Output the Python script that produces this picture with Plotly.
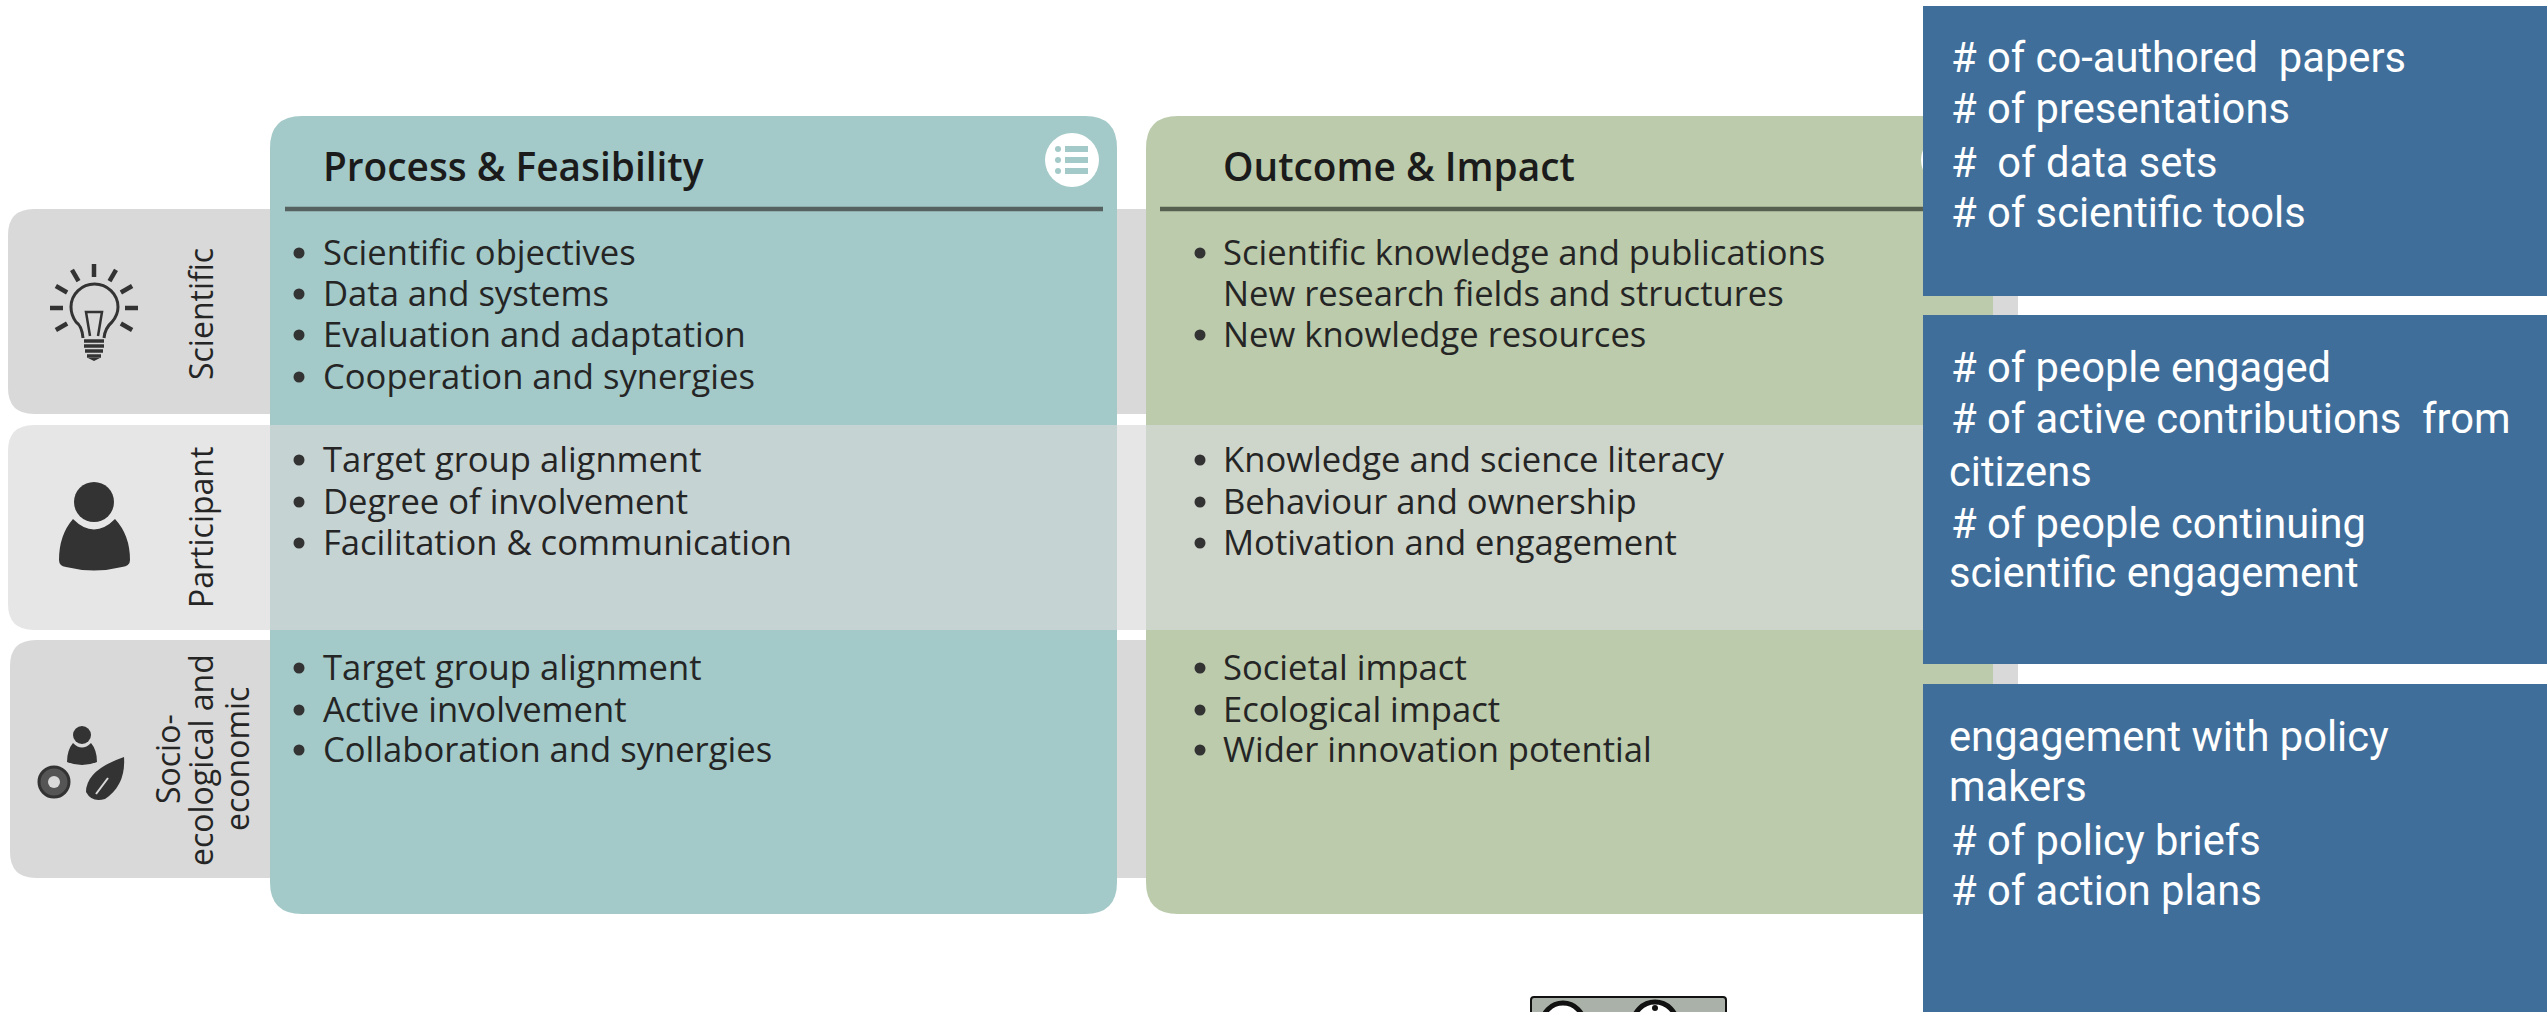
import math
import plotly.graph_objects as go

# ---- content ----
column_titles = ["Process & Feasibility", "Outcome & Impact"]
row_labels = [["Scientific"], ["Participant"], ["Socio-", "ecological and", "economic"]]
process_items = [
    ["Scientific objectives", "Data and systems", "Evaluation and adaptation", "Cooperation and synergies"],
    ["Target group alignment", "Degree of involvement", "Facilitation & communication"],
    ["Target group alignment", "Active involvement", "Collaboration and synergies"],
]
outcome_items = [
    ["Scientific knowledge and publications", "New research fields and structures", "New knowledge resources"],
    ["Knowledge and science literacy", "Behaviour and ownership", "Motivation and engagement"],
    ["Societal impact", "Ecological impact", "Wider innovation potential"],
]
outcome_no_bullet = {(0, 1)}
metric_lines = [
    ["# of co-authored  papers", "# of presentations", "#  of data sets", "# of scientific tools"],
    ["# of people engaged", "# of active contributions  from", "citizens", "# of people continuing", "scientific engagement"],
    ["engagement with policy", "makers", "# of policy briefs", "# of action plans"],
]

# ---- layout (pixel space of the canvas) ----
W, H = 2547, 1012
TEAL, GREEN = "#a3c9c8", "#bbcbab"
TEAL_L, GREEN_L = "#c6d3d3", "#ced5ca"
GREY_D, GREY_L = "#d9d9d9", "#e6e6e6"
BLUE = "#406e9a"
INK = "#252525"
ICON = "#333333"

item_y = [[253, 294, 335, 377], [460, 502, 543], [668, 710, 750]]
metric_y = [[57, 108, 162, 212], [367, 418, 471, 523, 572], [736, 786, 840, 890]]
metric_x = [[1949] * 4, [1949, 1949, 1947, 1949, 1947], [1947, 1947, 1949, 1949]]

shapes, ann = [], []


def rrect(x0, y0, x1, y1, rtl=0, rtr=0, rbr=0, rbl=0):
    return (f"M{x0+rtl},{y0} L{x1-rtr},{y0} Q{x1},{y0} {x1},{y0+rtr} L{x1},{y1-rbr} Q{x1},{y1} {x1-rbr},{y1} "
            f"L{x0+rbl},{y1} Q{x0},{y1} {x0},{y1-rbl} L{x0},{y0+rtl} Q{x0},{y0} {x0+rtl},{y0} Z")


def path(d, fill=None, line=None, w=0):
    shapes.append(dict(type="path", path=d, fillcolor=fill or "rgba(0,0,0,0)", layer="below",
                       line=dict(color=line or "rgba(0,0,0,0)", width=w)))


def circle(cx, cy, r, fill=None, line=None, w=0):
    shapes.append(dict(type="circle", x0=cx - r, x1=cx + r, y0=cy - r, y1=cy + r, layer="below",
                       fillcolor=fill or "rgba(0,0,0,0)", line=dict(color=line or "rgba(0,0,0,0)", width=w)))


def seg(x0, y0, x1, y1, color, w):
    shapes.append(dict(type="line", x0=x0, y0=y0, x1=x1, y1=y1, layer="below", line=dict(color=color, width=w)))


def text(x, y, s, size, color=INK, family="Open Sans", xanchor="left", angle=0, weight=None):
    f = dict(family=family, size=size, color=color)
    if weight:
        f["weight"] = weight
    ann.append(dict(x=x, y=y, text=s, showarrow=False, xanchor=xanchor, yanchor="middle", textangle=angle, font=f))


# row bands
path(rrect(8, 209, 2018, 414, 26, 0, 0, 26), GREY_D)
path(rrect(8, 425, 2018, 630, 26, 0, 0, 26), GREY_L)
path(rrect(10, 640, 2018, 878, 26, 0, 0, 26), GREY_D)

# columns
path(rrect(270, 116, 1117, 914, 32, 32, 32, 32), TEAL)
path(rrect(1146, 116, 1993, 914, 32, 32, 32, 32), GREEN)
shapes.append(dict(type="rect", x0=270, x1=1117, y0=425, y1=630, fillcolor=TEAL_L, line_width=0, layer="below"))
shapes.append(dict(type="rect", x0=1146, x1=1993, y0=425, y1=630, fillcolor=GREEN_L, line_width=0, layer="below"))

# header rules
seg(285, 209, 1103, 209, "#56625f", 4.5)
seg(1160, 209, 1978, 209, "#575f50", 4.5)

# list badges
for cx, col in ((1072, TEAL), (1948, GREEN)):
    circle(cx, 160, 27, "#ffffff")
    for yy in (149, 160, 171):
        circle(cx - 14, yy, 3, col)
        seg(cx - 7, yy, cx + 16, yy, col, 6)

# metric panels
shapes.append(dict(type="rect", x0=1923, x1=W, y0=6, y1=296, fillcolor=BLUE, line_width=0, layer="below"))
shapes.append(dict(type="rect", x0=1923, x1=W, y0=315, y1=664, fillcolor=BLUE, line_width=0, layer="below"))
shapes.append(dict(type="rect", x0=1923, x1=W, y0=684, y1=H, fillcolor=BLUE, line_width=0, layer="below"))

# licence badge (cropped by the page edge)
path(rrect(1531, 997, 1726, 1030, 3, 3, 0, 0), "#a9b1a8", "#111111", 2)
circle(1563, 1024, 21, "#ffffff", "#111111", 5)
circle(1655, 1024, 22, "#ffffff", "#111111", 5)
circle(1655, 1008, 3, "#111111")

# bulb icon
bx, by = 94, 308
path("M83,338 Q82,326 76,322 Q71,315 71,307 C71,294 82,284 94.5,284 C107,284 118,294 118,307 "
     "Q118,315 112,322 Q105,328 104,338", None, ICON, 3)
for a in (-90, -60, -30, 0, 180, -120, -150, 30, 150):
    ca, sa = math.cos(math.radians(a)), math.sin(math.radians(a))
    seg(bx + 31 * ca, by + 31 * sa, bx + 44 * ca, by + 44 * sa, ICON, 4.5)
path("M90,336 L86,312 L102,312 L98,336", None, ICON, 2.5)
for yy, half in ((341, 10), (346, 10), (351, 9), (356, 7)):
    seg(bx - half, yy, bx + half, yy, ICON, 3.5)
path("M88,358 L100,358 L94,361 Z", ICON)

# person icon
circle(94, 502, 20, ICON)
path("M73,519 Q94,540 115,519 Q130,535 130,560 Q130,566 122,567 Q94,574 66,567 Q59,566 59,560 Q59,535 73,519 Z", ICON)

# socio-ecological icon
circle(82, 735, 9, ICON)
path("M73,743 Q82,752 91,743 Q97,750 97,762 Q82,768 67,762 Q67,750 73,743 Z", ICON)
circle(54, 782, 15, "#555555", ICON, 3)
circle(54, 782, 6, "#d9d9d9")
path("M124,757 Q126,785 105,799 Q92,803 86,792 Q86,770 124,757 Z", ICON)
seg(96, 794, 108, 778, GREY_D, 2)

# text
for t, x in zip(column_titles, (321, 1221)):
    text(x, 166, t, 38.8, color="#1b1b1b", weight=600)

for r, lines in enumerate(process_items):
    for s, y in zip(lines, item_y[r]):
        text(321, y - 2, s, 34.6)
for r, lines in enumerate(outcome_items):
    for i, (s, y) in enumerate(zip(lines, item_y[r])):
        text(1221, y - 2, s, 34.6)

side_pos = [[(200, 314)], [(200, 528)], [(167, 759), (200, 760), (236, 759)]]
for lines, pos in zip(row_labels, side_pos):
    for s, (x, y) in zip(lines, pos):
        text(x, y, s, 32, xanchor="center", angle=-90)

for lines, ys, xs in zip(metric_lines, metric_y, metric_x):
    for s, y, x in zip(lines, ys, xs):
        text(x, y, s, 41.7, color="#ffffff", family="Roboto")

# bullets through the axes
bx_vals, by_vals = [], []
for r, ys in enumerate(item_y):
    for y in ys:
        bx_vals.append(299)
        by_vals.append(y)
    for i, y in enumerate(ys[:len(outcome_items[r])]):
        if (r, i) not in outcome_no_bullet:
            bx_vals.append(1200)
            by_vals.append(y)

fig = go.Figure(go.Scatter(x=bx_vals, y=by_vals, mode="markers", hoverinfo="skip",
                           marker=dict(size=11, color="#333333"), showlegend=False))
fig.update_layout(
    width=W, height=H, margin=dict(l=0, r=0, t=0, b=0),
    paper_bgcolor="#ffffff", plot_bgcolor="#ffffff",
    xaxis=dict(range=[0, W], visible=False, fixedrange=True),
    yaxis=dict(range=[H, 0], visible=False, fixedrange=True),
    shapes=shapes, annotations=ann,
)
fig.write_html("out.html", post_script="document.body.style.margin='0';document.body.style.overflow='hidden';",
               config={"displayModeBar": False})
